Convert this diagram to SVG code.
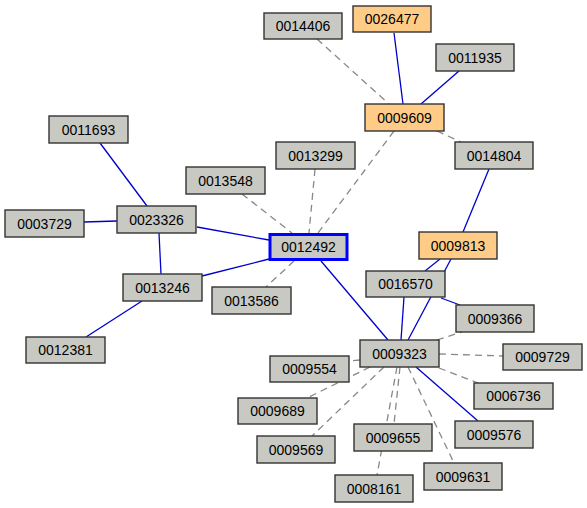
<svg xmlns="http://www.w3.org/2000/svg" width="587" height="508" viewBox="0 0 587 508">
<style>
.n rect{fill:#c8c9c3;stroke:#333;stroke-width:1.4}
.n.o rect{fill:#ffcc88}
.n.sel rect{stroke:#0000ff;stroke-width:3}
.n text{font-family:"Liberation Sans",Arial,sans-serif;font-size:14px;fill:#000;text-anchor:middle}
.b{stroke:#0000cc;stroke-width:1.3;fill:none}
.d{stroke:#888;stroke-width:1.3;stroke-dasharray:7,5;fill:none}
</style>
<rect width="587" height="508" fill="#fff"/>
<g id="edges">
<line class="b" x1="394" y1="33" x2="403" y2="104"/>
<line class="b" x1="459" y1="71" x2="421" y2="104"/>
<line class="b" x1="489" y1="169" x2="463" y2="232"/>
<line class="b" x1="100" y1="143" x2="147" y2="206"/>
<line class="b" x1="84" y1="222" x2="117" y2="221"/>
<line class="b" x1="197" y1="227" x2="269" y2="240"/>
<line class="b" x1="159" y1="233" x2="161" y2="274"/>
<line class="b" x1="202" y1="276" x2="269" y2="259"/>
<line class="b" x1="142" y1="301" x2="86" y2="337"/>
<line class="b" x1="321" y1="261" x2="388" y2="340"/>
<line class="b" x1="440" y1="259" x2="425" y2="271"/>
<line class="b" x1="451" y1="259" x2="408" y2="340"/>
<line class="b" x1="404" y1="297" x2="401" y2="340"/>
<line class="b" x1="441" y1="298" x2="460" y2="305"/>
<line class="b" x1="416" y1="367" x2="478" y2="421"/>
<line class="d" x1="317" y1="39" x2="389" y2="104"/>
<line class="d" x1="437" y1="131" x2="461" y2="142"/>
<line class="d" x1="394" y1="131" x2="318" y2="233"/>
<line class="d" x1="315" y1="169" x2="309" y2="233"/>
<line class="d" x1="242" y1="194" x2="292" y2="233"/>
<line class="d" x1="294" y1="261" x2="266" y2="287"/>
<line class="d" x1="437" y1="340" x2="462" y2="332"/>
<line class="d" x1="439" y1="354" x2="503" y2="356"/>
<line class="d" x1="360" y1="360" x2="349" y2="361"/>
<line class="d" x1="439" y1="368" x2="478" y2="383"/>
<line class="d" x1="370" y1="367" x2="307" y2="398"/>
<line class="d" x1="384" y1="367" x2="312" y2="436"/>
<line class="d" x1="400" y1="367" x2="394" y2="424"/>
<line class="d" x1="397" y1="367" x2="377" y2="475"/>
<line class="d" x1="408" y1="367" x2="454" y2="463"/>
</g>
<g id="n0014406" class="n"><rect x="264" y="13" width="78" height="26"/><text x="303" y="31">0014406</text></g>
<g id="n0026477" class="n o"><rect x="353" y="6" width="78" height="26"/><text x="392" y="24">0026477</text></g>
<g id="n0011935" class="n"><rect x="436" y="44" width="78" height="27"/><text x="475" y="62.5">0011935</text></g>
<g id="n0009609" class="n o"><rect x="365" y="104" width="79" height="27"/><text x="404.5" y="122.5">0009609</text></g>
<g id="n0013299" class="n"><rect x="276" y="142" width="79" height="27"/><text x="315.5" y="160.5">0013299</text></g>
<g id="n0014804" class="n"><rect x="455" y="142" width="78" height="27"/><text x="494" y="160.5">0014804</text></g>
<g id="n0011693" class="n"><rect x="49" y="116" width="79" height="27"/><text x="88.5" y="134.5">0011693</text></g>
<g id="n0013548" class="n"><rect x="186" y="167" width="79" height="27"/><text x="225.5" y="185.5">0013548</text></g>
<g id="n0003729" class="n"><rect x="5" y="210" width="79" height="27"/><text x="44.5" y="228.5">0003729</text></g>
<g id="n0023326" class="n"><rect x="117" y="206" width="79" height="27"/><text x="156.5" y="224.5">0023326</text></g>
<g id="n0012492" class="n sel"><rect x="270" y="234.5" width="77" height="25"/><text x="308.5" y="252">0012492</text></g>
<g id="n0013246" class="n"><rect x="123" y="274" width="79" height="27"/><text x="162.5" y="292.5">0013246</text></g>
<g id="n0013586" class="n"><rect x="212" y="287" width="79" height="27"/><text x="251.5" y="305.5">0013586</text></g>
<g id="n0012381" class="n"><rect x="26" y="337" width="79" height="26"/><text x="65.5" y="355">0012381</text></g>
<g id="n0009813" class="n o"><rect x="419" y="232" width="78" height="27"/><text x="458" y="250.5">0009813</text></g>
<g id="n0016570" class="n"><rect x="366" y="271" width="79" height="26"/><text x="405.5" y="289">0016570</text></g>
<g id="n0009366" class="n"><rect x="456" y="305" width="78" height="27"/><text x="495" y="323.5">0009366</text></g>
<g id="n0009323" class="n"><rect x="360" y="340" width="79" height="27"/><text x="399.5" y="358.5">0009323</text></g>
<g id="n0009554" class="n"><rect x="270" y="356" width="79" height="26"/><text x="309.5" y="374">0009554</text></g>
<g id="n0009729" class="n"><rect x="503" y="344" width="79" height="26"/><text x="542.5" y="362">0009729</text></g>
<g id="n0006736" class="n"><rect x="474" y="383" width="79" height="26"/><text x="513.5" y="401">0006736</text></g>
<g id="n0009689" class="n"><rect x="238" y="398" width="79" height="26"/><text x="277.5" y="416">0009689</text></g>
<g id="n0009576" class="n"><rect x="455" y="421" width="78" height="27"/><text x="494" y="439.5">0009576</text></g>
<g id="n0009655" class="n"><rect x="354" y="424" width="78" height="27"/><text x="393" y="442.5">0009655</text></g>
<g id="n0009569" class="n"><rect x="257" y="436" width="78" height="27"/><text x="296" y="454.5">0009569</text></g>
<g id="n0009631" class="n"><rect x="424" y="463" width="78" height="27"/><text x="463" y="481.5">0009631</text></g>
<g id="n0008161" class="n"><rect x="335" y="475" width="78" height="27"/><text x="374" y="493.5">0008161</text></g>
</svg>
